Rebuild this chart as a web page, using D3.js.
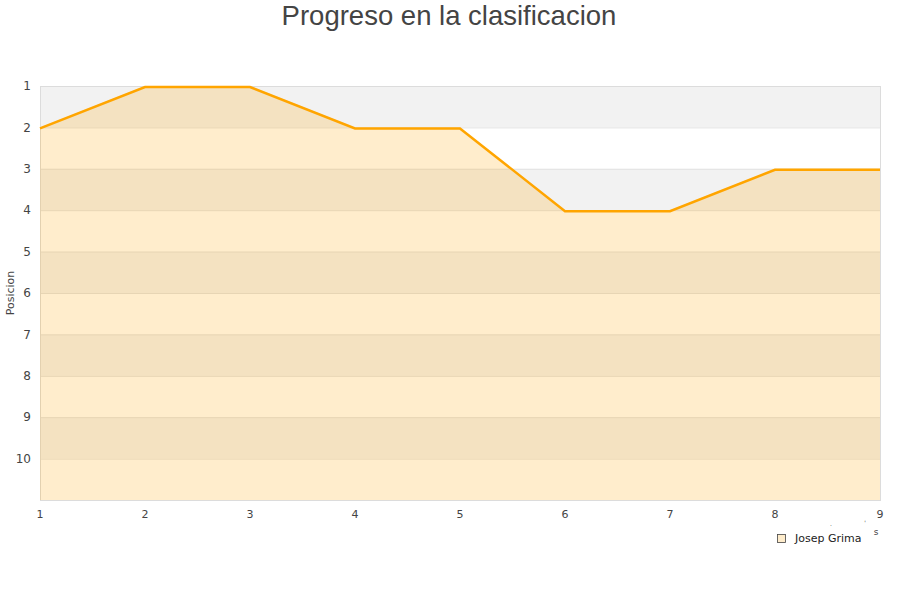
<!DOCTYPE html>
<html><head><meta charset="utf-8">
<script src="https://cdn.jsdelivr.net/npm/d3@7"></script>
<style>body{margin:0;background:#fff}svg{display:block}</style>
</head><body>
<svg id="c" width="900" height="600"></svg>
<script>
const jornadas = [1,2,3,4,5,6,7,8,9];
const posiciones = [2,1,1,2,2,4,4,3,3];
const yTicks = [1,2,3,4,5,6,7,8,9,10];
const seriesName = "Josep Grima";
const title = "Progreso en la clasificacion";
const yTitle = "Posicion";

const svg = d3.select("#c");
const m = {l:40, r:20, t:86, b:100};
const W = 900, H = 600;
const x = d3.scaleLinear().domain([1,9]).range([m.l, W-m.r]);
const y = d3.scaleLinear().domain([1,11]).range([m.t, H-m.b]);

// bands
const bands = d3.range(1,11);
svg.append("g").selectAll("rect").data(bands).join("rect")
  .attr("x", x(1)).attr("width", x(9)-x(1))
  .attr("y", d=>y(d)).attr("height", d=>y(d+1)-y(d))
  .attr("fill", d=> d%2===1 ? "#f2f2f2" : "#ffffff");

// grid lines
svg.append("g").selectAll("line").data(d3.range(2,11)).join("line")
  .attr("x1", x(1)).attr("x2", x(9))
  .attr("y1", d=>y(d)+0.5).attr("y2", d=>y(d)+0.5)
  .attr("stroke", "#e2e2e2").attr("stroke-width",1);

// plot border
svg.append("rect").attr("x", x(1)+0.5).attr("y", y(1)+0.5)
  .attr("width", x(9)-x(1)).attr("height", y(11)-y(1))
  .attr("fill","none").attr("stroke","#dcdcdc");

const data = jornadas.map((j,i)=>({j, p:posiciones[i]}));
svg.append("path").datum(data)
  .attr("d", d3.area().x(d=>x(d.j)).y0(y(11)).y1(d=>y(d.p)))
  .attr("fill","#ffa500").attr("fill-opacity",0.2);
svg.append("path").datum(data)
  .attr("d", d3.line().x(d=>x(d.j)).y(d=>y(d.p)+1))
  .attr("fill","none").attr("stroke","#ffa500").attr("stroke-width",2.5);

// axes labels
svg.append("g").selectAll("text").data(yTicks).join("text")
  .attr("x", 31).attr("y", d=>y(d)).attr("dy","0.35em")
  .attr("text-anchor","end")
  .attr("font-family","'DejaVu Sans', sans-serif").attr("font-size",12).attr("fill","#444")
  .text(d=>d);
svg.append("g").selectAll("text").data(jornadas).join("text")
  .attr("x", d=>x(d)).attr("y", 518)
  .attr("text-anchor","middle")
  .attr("font-family","'DejaVu Sans', sans-serif").attr("font-size",11).attr("fill","#444")
  .text(d=>d);

svg.append("text").attr("transform","translate(14,293) rotate(-90)")
  .attr("text-anchor","middle")
  .attr("font-family","'DejaVu Sans', sans-serif").attr("font-size",11).attr("fill","#444")
  .text(yTitle);

svg.append("text").attr("x",449).attr("y",25).attr("text-anchor","middle")
  .attr("font-family","'Liberation Sans', Arial, sans-serif").attr("font-size",27.5).attr("fill","#444")
  .text(title);

// legend
svg.append("rect").attr("x",777.5).attr("y",534.5).attr("width",8).attr("height",8)
  .attr("fill","#feeccb").attr("stroke","#444").attr("stroke-width",0.8);
svg.append("text").attr("x",795).attr("y",542)
  .attr("font-family","'DejaVu Sans', sans-serif").attr("font-size",11).attr("fill","#222")
  .text(seriesName);

// stray axis-title fragments
svg.append("text").attr("x",876).attr("y",535).attr("text-anchor","middle")
  .attr("font-family","'DejaVu Sans', sans-serif").attr("font-size",9).attr("fill","#444").text("s");
svg.append("text").attr("x",831).attr("y",526).attr("text-anchor","middle")
  .attr("font-family","'DejaVu Sans', sans-serif").attr("font-size",6).attr("fill","#444").text(".");
svg.append("text").attr("x",865).attr("y",525).attr("text-anchor","middle")
  .attr("font-family","'DejaVu Sans', sans-serif").attr("font-size",6).attr("fill","#444").text("'");
</script>
</body></html>
